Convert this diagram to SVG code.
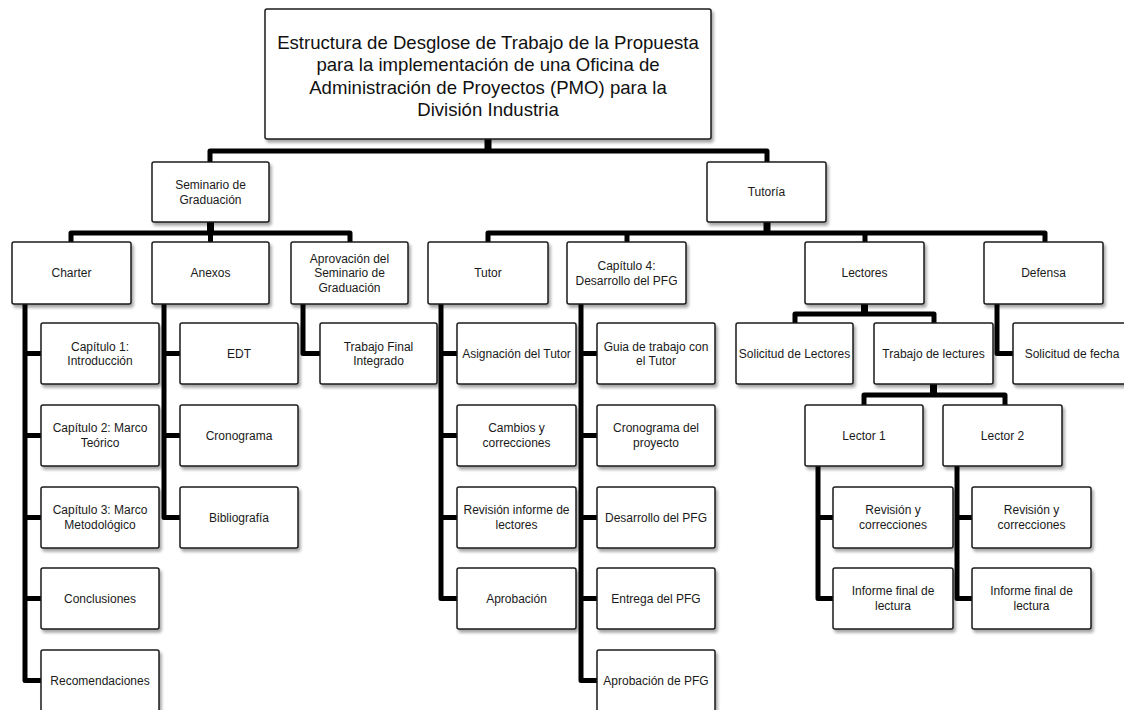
<svg xmlns="http://www.w3.org/2000/svg" width="1124" height="710" viewBox="0 0 1124 710">
  <style>
    .box { fill: #ffffff; stroke: #1a1a1a; stroke-width: 1.5; filter: url(#shadow); }
    .lbl { font-family: "Liberation Sans", Arial, sans-serif; font-size: 12px; fill: #1a1a1a; text-anchor: middle; }
    .title { font-family: "Liberation Sans", Arial, sans-serif; font-size: 18.6px; fill: #111111; text-anchor: middle; }
    .wire { fill: none; stroke: #000000; stroke-width: 5; stroke-linejoin: round; }
    .drop { fill: none; stroke: #000000; stroke-width: 7; }
  </style>
  <defs>
    <filter id="shadow" x="-10%" y="-10%" width="125%" height="130%">
      <feDropShadow dx="2" dy="3" stdDeviation="1.8" flood-color="#000000" flood-opacity="0.35"/>
    </filter>
  </defs>
  <rect width="1124" height="710" fill="#ffffff"/>

  <!-- connectors -->
  <g id="connectors">
    <!-- root to level 1 -->
    <path class="drop" d="M488 139 V151"/>
    <path class="wire" d="M210 162 V151 H767 V162"/>
    <!-- Seminario de Graduación -->
    <path class="drop" d="M210.5 222 V233"/>
    <path class="wire" d="M71 242 V233 H350 V242"/>
    <path class="wire" d="M210.5 233 V242"/>
    <!-- Tutoría -->
    <path class="drop" d="M767 222 V233"/>
    <path class="wire" d="M488 242 V233 H1045 V242"/>
    <path class="wire" d="M627 233 V242"/>
    <path class="wire" d="M865 233 V242"/>
    <!-- Charter spine -->
    <path class="wire" d="M25 304 V680.5 H41"/>
    <path class="wire" d="M25 353.5 H41 M25 435.5 H41 M25 517.5 H41 M25 598.5 H41"/>
    <!-- Anexos spine -->
    <path class="wire" d="M164 304 V517.5 H180"/>
    <path class="wire" d="M164 353.5 H180 M164 435.5 H180"/>
    <!-- Aprovación spine -->
    <path class="wire" d="M303 304 V353.5 H320"/>
    <!-- Tutor spine -->
    <path class="wire" d="M441 304 V598.5 H457"/>
    <path class="wire" d="M441 353.5 H457 M441 435.5 H457 M441 517.5 H457"/>
    <!-- Capítulo 4 spine -->
    <path class="wire" d="M581 304 V680.5 H597"/>
    <path class="wire" d="M581 353.5 H597 M581 435.5 H597 M581 517.5 H597 M581 598.5 H597"/>
    <!-- Lectores -->
    <path class="drop" d="M864.5 304 V314"/>
    <path class="wire" d="M795 323 V314 H934 V323"/>
    <!-- Defensa spine -->
    <path class="wire" d="M997 304 V353.5 H1013"/>
    <!-- Trabajo de lecturas -->
    <path class="drop" d="M933.5 384 V395"/>
    <path class="wire" d="M864 405 V395 H1005 V405"/>
    <!-- Lector 1 spine -->
    <path class="wire" d="M818 466 V598.5 H833"/>
    <path class="wire" d="M818 517.5 H833"/>
    <!-- Lector 2 spine -->
    <path class="wire" d="M957 466 V598.5 H972"/>
    <path class="wire" d="M957 517.5 H972"/>
  </g>

  <!-- root -->
  <g id="root">
    <rect class="box" x="265" y="9" width="446" height="130" rx="2"/>
    <text class="title" x="488" y="48.6">Estructura de Desglose de Trabajo de la Propuesta</text>
    <text class="title" x="488" y="71">para la implementación de una Oficina de</text>
    <text class="title" x="488" y="93.6">Administración de Proyectos (PMO) para la</text>
    <text class="title" x="488" y="116">División Industria</text>
  </g>

  <!-- level 1 -->
  <g id="seminario">
    <rect class="box" x="152" y="162" width="117" height="60" rx="2"/>
    <text class="lbl" x="210.5" y="189">Seminario de</text>
    <text class="lbl" x="210.5" y="203.5">Graduación</text>
  </g>
  <g id="tutoria">
    <rect class="box" x="707" y="162" width="119" height="60" rx="2"/>
    <text class="lbl" x="766.5" y="196.2">Tutoría</text>
  </g>

  <!-- level 2 -->
  <g id="charter">
    <rect class="box" x="12" y="242" width="119" height="62" rx="2"/>
    <text class="lbl" x="71.5" y="277.2">Charter</text>
  </g>
  <g id="anexos">
    <rect class="box" x="152" y="242" width="117" height="62" rx="2"/>
    <text class="lbl" x="210.5" y="277.2">Anexos</text>
  </g>
  <g id="aprovacion">
    <rect class="box" x="291" y="242" width="117" height="62" rx="2"/>
    <text class="lbl" x="349.5" y="262.7">Aprovación del</text>
    <text class="lbl" x="349.5" y="277.2">Seminario de</text>
    <text class="lbl" x="349.5" y="291.7">Graduación</text>
  </g>
  <g id="tutor">
    <rect class="box" x="428" y="242" width="120" height="62" rx="2"/>
    <text class="lbl" x="488" y="277.2">Tutor</text>
  </g>
  <g id="capitulo4">
    <rect class="box" x="567" y="242" width="119" height="62" rx="2"/>
    <text class="lbl" x="626.5" y="270">Capítulo 4:</text>
    <text class="lbl" x="626.5" y="284.5">Desarrollo del PFG</text>
  </g>
  <g id="lectores">
    <rect class="box" x="805" y="242" width="119" height="62" rx="2"/>
    <text class="lbl" x="864.5" y="277.2">Lectores</text>
  </g>
  <g id="defensa">
    <rect class="box" x="984" y="242" width="119" height="62" rx="2"/>
    <text class="lbl" x="1043.5" y="277.2">Defensa</text>
  </g>

  <!-- Charter children -->
  <g id="cap1">
    <rect class="box" x="41" y="323" width="118" height="61" rx="2"/>
    <text class="lbl" x="100" y="350.5">Capítulo 1:</text>
    <text class="lbl" x="100" y="365">Introducción</text>
  </g>
  <g id="cap2">
    <rect class="box" x="41" y="405" width="118" height="61" rx="2"/>
    <text class="lbl" x="100" y="432.4">Capítulo 2: Marco</text>
    <text class="lbl" x="100" y="446.9">Teórico</text>
  </g>
  <g id="cap3">
    <rect class="box" x="41" y="487" width="118" height="61" rx="2"/>
    <text class="lbl" x="100" y="514.4">Capítulo 3: Marco</text>
    <text class="lbl" x="100" y="528.9">Metodológico</text>
  </g>
  <g id="conclusiones">
    <rect class="box" x="41" y="568" width="118" height="61" rx="2"/>
    <text class="lbl" x="100" y="602.7">Conclusiones</text>
  </g>
  <g id="recomendaciones">
    <rect class="box" x="41" y="650" width="118" height="62" rx="2"/>
    <text class="lbl" x="100" y="684.7">Recomendaciones</text>
  </g>

  <!-- Anexos children -->
  <g id="edt">
    <rect class="box" x="180" y="323" width="118" height="61" rx="2"/>
    <text class="lbl" x="239" y="357.7">EDT</text>
  </g>
  <g id="cronograma">
    <rect class="box" x="180" y="405" width="118" height="61" rx="2"/>
    <text class="lbl" x="239" y="439.7">Cronograma</text>
  </g>
  <g id="bibliografia">
    <rect class="box" x="180" y="487" width="118" height="61" rx="2"/>
    <text class="lbl" x="239" y="521.7">Bibliografía</text>
  </g>

  <!-- Aprovación child -->
  <g id="trabajo-final">
    <rect class="box" x="320" y="323" width="117" height="61" rx="2"/>
    <text class="lbl" x="378.5" y="350.5">Trabajo Final</text>
    <text class="lbl" x="378.5" y="365">Integrado</text>
  </g>

  <!-- Tutor children -->
  <g id="asignacion">
    <rect class="box" x="457" y="323" width="119" height="61" rx="2"/>
    <text class="lbl" x="516.5" y="357.7">Asignación del Tutor</text>
  </g>
  <g id="cambios">
    <rect class="box" x="457" y="405" width="119" height="61" rx="2"/>
    <text class="lbl" x="516.5" y="432.4">Cambios y</text>
    <text class="lbl" x="516.5" y="446.9">correcciones</text>
  </g>
  <g id="revision-informe">
    <rect class="box" x="457" y="487" width="119" height="61" rx="2"/>
    <text class="lbl" x="516.5" y="514.4">Revisión informe de</text>
    <text class="lbl" x="516.5" y="528.9">lectores</text>
  </g>
  <g id="aprobacion">
    <rect class="box" x="457" y="568" width="119" height="61" rx="2"/>
    <text class="lbl" x="516.5" y="602.7">Aprobación</text>
  </g>

  <!-- Capítulo 4 children -->
  <g id="guia">
    <rect class="box" x="597" y="323" width="118" height="61" rx="2"/>
    <text class="lbl" x="656" y="350.5">Guia de trabajo con</text>
    <text class="lbl" x="656" y="365">el Tutor</text>
  </g>
  <g id="cronograma-proyecto">
    <rect class="box" x="597" y="405" width="118" height="61" rx="2"/>
    <text class="lbl" x="656" y="432.4">Cronograma del</text>
    <text class="lbl" x="656" y="446.9">proyecto</text>
  </g>
  <g id="desarrollo">
    <rect class="box" x="597" y="487" width="118" height="61" rx="2"/>
    <text class="lbl" x="656" y="521.7">Desarrollo del PFG</text>
  </g>
  <g id="entrega">
    <rect class="box" x="597" y="568" width="118" height="61" rx="2"/>
    <text class="lbl" x="656" y="602.7">Entrega del PFG</text>
  </g>
  <g id="aprobacion-pfg">
    <rect class="box" x="597" y="650" width="118" height="62" rx="2"/>
    <text class="lbl" x="656" y="684.7">Aprobación de PFG</text>
  </g>

  <!-- Lectores children -->
  <g id="solicitud-lectores">
    <rect class="box" x="736" y="323" width="117" height="61" rx="2"/>
    <text class="lbl" x="794.5" y="357.7">Solicitud de Lectores</text>
  </g>
  <g id="trabajo-lecturas">
    <rect class="box" x="874" y="323" width="119" height="61" rx="2"/>
    <text class="lbl" x="933.5" y="357.7">Trabajo de lectures</text>
  </g>

  <!-- Defensa child -->
  <g id="solicitud-fecha">
    <rect class="box" x="1013" y="323" width="118" height="61" rx="2"/>
    <text class="lbl" x="1072" y="357.7">Solicitud de fecha</text>
  </g>

  <!-- readers -->
  <g id="lector1">
    <rect class="box" x="805" y="405" width="118" height="61" rx="2"/>
    <text class="lbl" x="864" y="439.7">Lector 1</text>
  </g>
  <g id="lector2">
    <rect class="box" x="943" y="405" width="119" height="61" rx="2"/>
    <text class="lbl" x="1002.5" y="439.7">Lector 2</text>
  </g>
  <g id="l1-revision">
    <rect class="box" x="833" y="487" width="120" height="61" rx="2"/>
    <text class="lbl" x="893" y="514.4">Revisión y</text>
    <text class="lbl" x="893" y="528.9">correcciones</text>
  </g>
  <g id="l1-informe">
    <rect class="box" x="833" y="568" width="120" height="61" rx="2"/>
    <text class="lbl" x="893" y="595.4">Informe final de</text>
    <text class="lbl" x="893" y="609.9">lectura</text>
  </g>
  <g id="l2-revision">
    <rect class="box" x="972" y="487" width="119" height="61" rx="2"/>
    <text class="lbl" x="1031.5" y="514.4">Revisión y</text>
    <text class="lbl" x="1031.5" y="528.9">correcciones</text>
  </g>
  <g id="l2-informe">
    <rect class="box" x="972" y="568" width="119" height="61" rx="2"/>
    <text class="lbl" x="1031.5" y="595.4">Informe final de</text>
    <text class="lbl" x="1031.5" y="609.9">lectura</text>
  </g>
</svg>
